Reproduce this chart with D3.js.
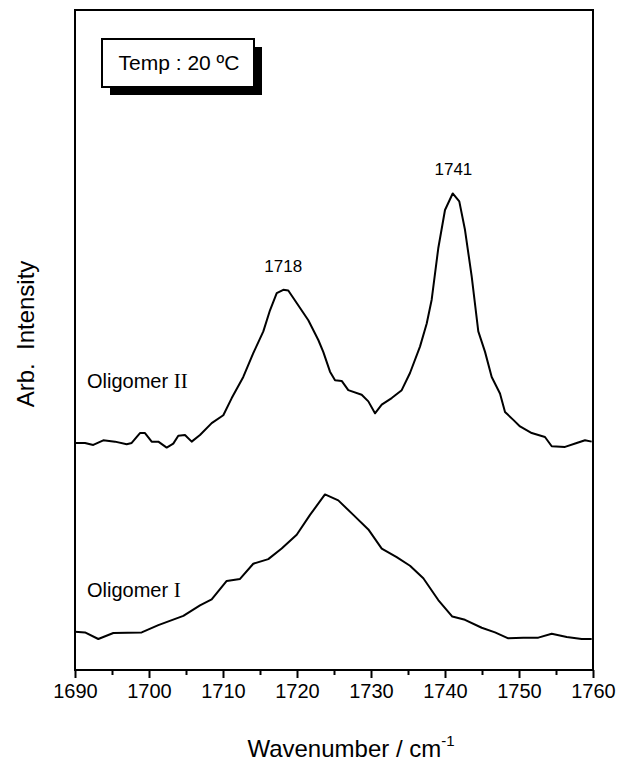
<!DOCTYPE html>
<html>
<head>
<meta charset="utf-8">
<script src="https://cdn.jsdelivr.net/npm/d3@7"></script>
<style>
  body { margin: 0; background: #fff; }
  text { font-family: "Liberation Sans", Arial, sans-serif; fill: #000; }
</style>
</head>
<body>
<div id="chart"></div>
<script>
// wavenumbers / intensities
var wnII = [1690.0, 1691.35, 1692.47, 1693.82, 1695.41, 1696.99, 1697.66, 1698.78, 1699.46, 1700.36,
  1701.26, 1702.39, 1703.28, 1703.96, 1704.86, 1705.77, 1706.89, 1708.47, 1710.04, 1711.18,
  1712.74, 1714.09, 1715.45, 1716.35, 1717.26, 1718.15, 1718.82, 1719.96, 1721.53, 1722.88,
  1723.55, 1724.46, 1725.14, 1726.04, 1726.93, 1728.74, 1729.64, 1730.54, 1731.45, 1732.80,
  1734.15, 1735.27, 1736.62, 1737.53, 1738.20, 1739.09, 1740.0, 1741.04, 1741.93, 1742.70,
  1743.61, 1744.50, 1745.41, 1746.31, 1747.43, 1748.11, 1749.23, 1750.14, 1751.72, 1753.51,
  1754.42, 1756.22, 1757.80, 1758.92, 1759.82];
var intII = [34.4, 34.4, 34.1, 34.8, 34.6, 34.2, 34.4, 35.9, 35.9, 34.6,
  34.6, 33.7, 34.3, 35.5, 35.6, 34.6, 35.6, 37.4, 38.6, 41.2,
  44.4, 48.0, 51.3, 54.5, 57.1, 57.6, 57.5, 55.6, 53.0, 50.0,
  48.2, 45.2, 43.9, 43.8, 42.4, 41.7, 40.7, 38.9, 40.2, 41.2,
  42.4, 45.0, 49.0, 52.5, 56.1, 63.9, 69.7, 72.2, 71.0, 66.7,
  59.6, 51.3, 48.2, 44.4, 41.9, 39.1, 37.9, 36.9, 35.9, 35.3,
  33.9, 33.8, 34.4, 34.8, 34.6];

var wnI = [1690.0, 1691.35, 1693.15, 1695.18, 1699.01, 1701.26, 1704.64, 1706.89, 1708.47, 1710.50,
  1712.30, 1714.09, 1716.12, 1717.93, 1719.96, 1721.76, 1723.78, 1725.58, 1727.61, 1729.64,
  1731.45, 1733.47, 1735.27, 1737.07, 1739.09, 1740.99, 1742.70, 1744.96, 1746.76, 1748.55,
  1750.58, 1752.61, 1754.42, 1756.45, 1758.47, 1759.82];
var intI = [5.8, 5.7, 4.7, 5.6, 5.7, 6.8, 8.2, 9.8, 10.7, 13.5,
  13.8, 16.1, 16.8, 18.4, 20.5, 23.5, 26.6, 25.7, 23.5, 21.3,
  18.4, 17.1, 15.8, 13.9, 10.6, 8.1, 7.6, 6.4, 5.7, 4.8,
  4.9, 4.9, 5.5, 5.0, 4.7, 4.7];

var majorTicks = [1690, 1700, 1710, 1720, 1730, 1740, 1750, 1760];
var minorTicks = [1695, 1705, 1715, 1725, 1735, 1745, 1755];

var peakLabels = [{wn: 1718, y: 57.6, text: "1718"}, {wn: 1741, y: 72.2, text: "1741"}];

var svgWidth = 618;
var svgHeight = 762;
var margin = {top: 10, right: 25, bottom: 92, left: 75};
var width = svgWidth - margin.left - margin.right;
var height = svgHeight - margin.top - margin.bottom;

var svg = d3.select("#chart")
  .append("svg")
  .attr("width", svgWidth)
  .attr("height", svgHeight);

var chartGroup = svg.append("g")
  .attr("transform", `translate(${margin.left}, ${margin.top})`);

var x = d3.scaleLinear().domain([1690, 1760]).range([0, width]);
var y = d3.scaleLinear().domain([0, 100]).range([height, 0]);

// axes (ticks outside, below)
var bottomAxis = d3.axisBottom(x).tickValues(majorTicks).tickFormat(d3.format("d"))
  .tickSize(8).tickSizeOuter(0).tickPadding(6);
var minorAxis = d3.axisBottom(x).tickValues(minorTicks).tickFormat("")
  .tickSize(5).tickSizeOuter(0);

var ax = chartGroup.append("g")
  .attr("transform", `translate(0, ${height})`)
  .call(bottomAxis);
ax.select(".domain").remove();
ax.selectAll("line").attr("stroke", "#000").attr("stroke-width", 2);
ax.selectAll("text").attr("font-size", 20).attr("font-family", "Liberation Sans, Arial, sans-serif").attr("fill", "#000");

var mx = chartGroup.append("g")
  .attr("transform", `translate(0, ${height})`)
  .call(minorAxis);
mx.select(".domain").remove();
mx.selectAll("line").attr("stroke", "#000").attr("stroke-width", 2);

// frame
chartGroup.append("rect")
  .attr("x", 0).attr("y", 0)
  .attr("width", width).attr("height", height)
  .attr("fill", "none").attr("stroke", "#000").attr("stroke-width", 2);

// spectra
var line = d3.line()
  .x(d => x(d[0]))
  .y(d => y(d[1]));

chartGroup.append("path")
  .datum(d3.zip(wnII, intII))
  .attr("d", line)
  .attr("fill", "none").attr("stroke", "#000").attr("stroke-width", 2)
  .attr("stroke-linejoin", "round");

chartGroup.append("path")
  .datum(d3.zip(wnI, intI))
  .attr("d", line)
  .attr("fill", "none").attr("stroke", "#000").attr("stroke-width", 2)
  .attr("stroke-linejoin", "round");

// peak labels
chartGroup.selectAll(".peak")
  .data(peakLabels)
  .enter()
  .append("text")
  .attr("class", "peak")
  .attr("x", d => x(d.wn) + 1)
  .attr("y", d => y(d.y) - 18)
  .attr("text-anchor", "middle")
  .attr("font-size", 17)
  .text(d => d.text);

// curve names
var names = [{text: "Oligomer ", num: "II", y: 388}, {text: "Oligomer ", num: "I", y: 597}];
names.forEach(function(n) {
  var t = svg.append("text")
    .attr("x", 87).attr("y", n.y)
    .attr("font-size", 20);
  t.append("tspan").text(n.text);
  t.append("tspan").attr("font-family", "Liberation Serif, Times New Roman, serif").attr("font-size", 21).text(n.num);
});

// legend box with shadow
svg.append("rect")
  .attr("x", 110).attr("y", 47).attr("width", 152).attr("height", 48)
  .attr("fill", "#000");
svg.append("rect")
  .attr("x", 102).attr("y", 39).attr("width", 152).attr("height", 48)
  .attr("fill", "#fff").attr("stroke", "#000").attr("stroke-width", 2);
svg.append("text")
  .attr("x", 179).attr("y", 70)
  .attr("text-anchor", "middle")
  .attr("font-size", 21)
  .text("Temp : 20 \u00baC");

// axis titles
var xt = svg.append("text")
  .attr("x", 351).attr("y", 757)
  .attr("text-anchor", "middle")
  .attr("font-size", 24);
xt.append("tspan").text("Wavenumber / cm");
xt.append("tspan").attr("font-size", 15).attr("dy", -11).text("-1");

svg.append("text")
  .attr("transform", "rotate(-90)")
  .attr("x", -334)
  .attr("y", 34)
  .attr("text-anchor", "middle")
  .attr("font-size", 24)
  .attr("xml:space", "preserve")
  .text("Arb.  Intensity");
</script>
</body>
</html>
